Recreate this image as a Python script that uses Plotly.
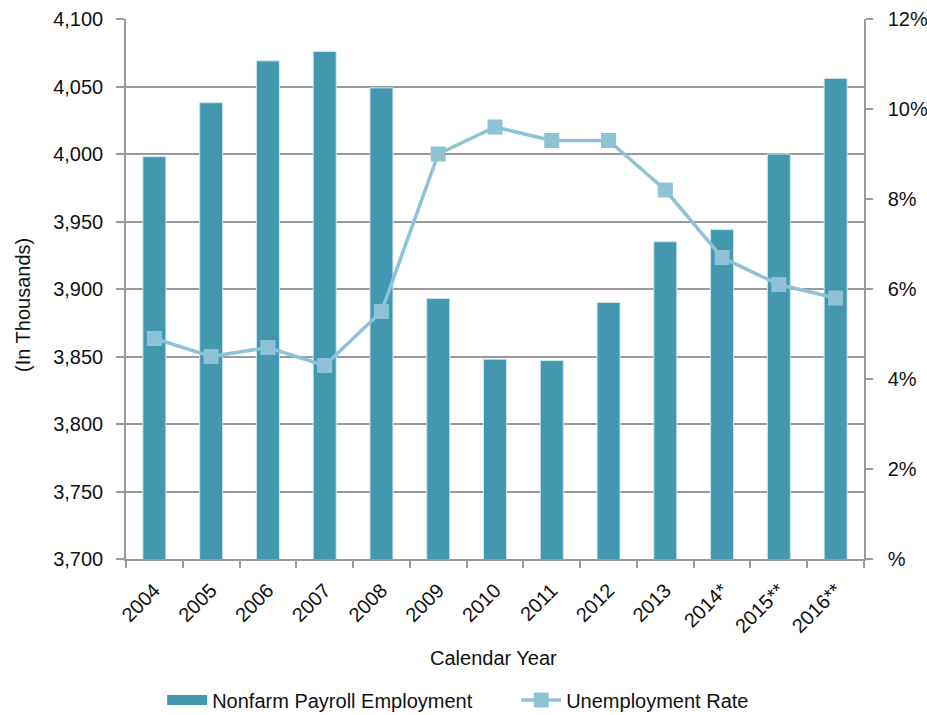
import plotly.graph_objects as go

years = ["2004", "2005", "2006", "2007", "2008", "2009", "2010", "2011", "2012", "2013", "2014*", "2015**", "2016**"]
payroll = [3998, 4038, 4069, 4076, 4049, 3893, 3848, 3847, 3890, 3935, 3944, 4000, 4056]
unemployment = [4.9, 4.5, 4.7, 4.3, 5.5, 9.0, 9.6, 9.3, 9.3, 8.2, 6.7, 6.1, 5.8]

left_ticks = [3700, 3750, 3800, 3850, 3900, 3950, 4000, 4050, 4100]
left_ticktext = ["3,700", "3,750", "3,800", "3,850", "3,900", "3,950", "4,000", "4,050", "4,100"]
right_ticks = [0, 2, 4, 6, 8, 10, 12]
right_ticktext = ["%", "2%", "4%", "6%", "8%", "10%", "12%"]

FONT = "Liberation Sans, Arial, sans-serif"
FS = 20
BAR = "#4398B0"
LINE = "#8DC3D5"
GRID = "#9a9a9a"

fig = go.Figure()
fig.add_trace(go.Bar(
    x=years, y=payroll, name="Nonfarm Payroll Employment",
    marker=dict(color=BAR, line=dict(color="#CFE6EE", width=1)),
    showlegend=False,
))
# legend entry for the bars drawn as a wide rectangle
fig.add_trace(go.Scatter(
    x=[None], y=[None], name="Nonfarm Payroll Employment",
    mode="lines", line=dict(color=BAR, width=12),
))
fig.add_trace(go.Scatter(
    x=years, y=unemployment, name="Unemployment Rate", yaxis="y2",
    mode="lines+markers",
    line=dict(color=LINE, width=3.5),
    marker=dict(symbol="square", size=15, color=LINE),
))

fig.update_layout(
    width=927, height=715,
    margin=dict(l=126, r=63, t=19, b=156, autoexpand=False),
    paper_bgcolor="white", plot_bgcolor="white",
    font=dict(family=FONT, size=FS, color="#111"),
    bargap=0.595,
    showlegend=True,
    legend=dict(orientation="h", x=0.049, xanchor="left", y=-0.261, yanchor="middle",
                font=dict(size=FS), tracegroupgap=0, itemwidth=40, entrywidth=299),
    xaxis=dict(
        type="category", range=[-0.5, 12.5], tickangle=-45, tickson="boundaries",
        ticks="outside", ticklen=7, tickcolor=GRID, tickwidth=1.5,
        showline=True, linecolor=GRID, linewidth=1.5,
        showgrid=False, automargin=False, ticklabelstandoff=10,
        tickfont=dict(size=FS),
    ),
    yaxis=dict(
        range=[3700, 4100], tickvals=left_ticks, ticktext=left_ticktext,
        ticks="outside", ticklen=8, tickcolor=GRID, tickwidth=1.5,
        showline=True, linecolor=GRID, linewidth=1.5,
        showgrid=True, gridcolor=GRID, gridwidth=1.5,
        zeroline=False, automargin=False, ticklabelstandoff=9,
        tickfont=dict(size=FS),
    ),
    yaxis2=dict(
        range=[0, 12], tickvals=right_ticks, ticktext=right_ticktext,
        overlaying="y", side="right",
        ticks="outside", ticklen=7, tickcolor=GRID, tickwidth=1.5,
        showline=True, linecolor=GRID, linewidth=1.5,
        showgrid=False, zeroline=False, automargin=False, ticklabelstandoff=11,
        tickfont=dict(size=FS),
    ),
    annotations=[
        dict(text="(In Thousands)", xref="paper", yref="paper", x=-0.1396, y=0.4704,
             xanchor="center", yanchor="middle", textangle=-90, showarrow=False,
             font=dict(size=FS)),
        dict(text="Calendar Year", xref="paper", yref="paper", x=0.4973, y=-0.1833,
             xanchor="center", yanchor="middle", showarrow=False,
             font=dict(size=FS)),
    ],
)

fig.write_html(
    "out.html",
    config={"displayModeBar": False},
    post_script="document.body.style.margin='0';document.body.style.overflow='hidden';",
)
